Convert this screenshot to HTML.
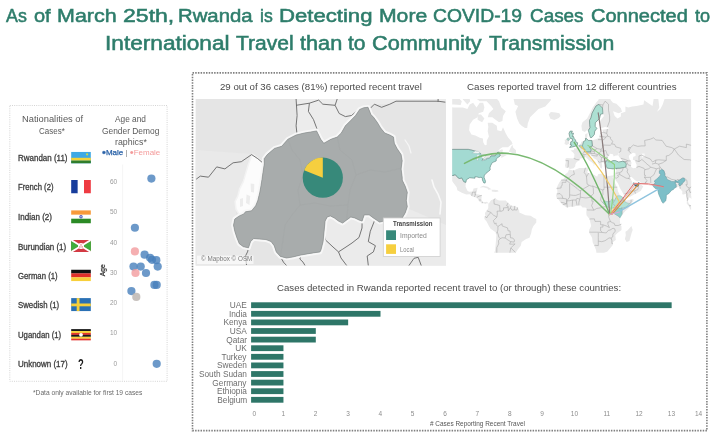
<!DOCTYPE html>
<html><head><meta charset="utf-8"><title>Rwanda COVID-19 dashboard</title>
<style>
html,body{margin:0;padding:0;background:#fff;}
body{width:717px;height:438px;position:relative;overflow:hidden;font-family:"Liberation Sans", sans-serif;}
#pg{position:absolute;left:0;top:0;width:717px;height:438px;filter:blur(0.4px);}
.abs{position:absolute;display:block;}
.t{position:absolute;white-space:pre;line-height:1;transform-origin:0 50%;font-family:"Liberation Sans", sans-serif;}
.box{position:absolute;box-sizing:border-box;}
</style></head><body><div id="pg">
<svg class="abs" style="left:0;top:0" width="717" height="438" viewBox="0 0 717 438">
<rect x="9.8" y="105.5" width="157.3" height="275.8" fill="none" stroke="#d4d4d4" stroke-width="1" stroke-dasharray="1 1.2"/>
<rect x="192.5" y="72.9" width="514.4" height="357.7" fill="none" stroke="#808080" stroke-width="1.6" stroke-dasharray="1.5 1.2"/>
<svg x="195.4" y="99" width="250.6" height="166.7" viewBox="195.4 99 250.6 166.7">
<rect x="195.4" y="99" width="250.6" height="166.7" fill="#e5e5e5"/>
<path d="M296.1,99.0 L297.1,135.0 L304.3,133.0 L316.6,130.9 L320.7,139.2 L323.8,143.3 L337.2,137.1 L345.4,125.8 L359.7,109.4 L368.0,107.3 L374.4,104.2 L389.8,104.2 L396.0,101.2 L446.0,101.2 L446.0,99.0Z" fill="#ececec"/>
<path d="M325.1,221.1 L324.1,231.3 L323.1,241.6 L320.0,251.9 L300.9,255.0 L286.5,258.0 L283.0,265.7 L446.0,265.7 L446.0,225.0 L407.0,208.0 L402.2,218.0 L383.7,221.1 L373.4,218.0 L364.2,214.9 L359.0,220.0 L350.8,217.0 L342.6,223.1 L330.3,215.9Z" fill="#ebebeb"/>
<path d="M195.4,150.0 L252.0,154.0 L236.0,200.0 L236.0,215.0 L233.0,228.0 L240.0,246.0 L247.0,250.0 L245.0,265.7 L195.4,265.7Z" fill="#e9e9e9"/>
<path d="M252.4,154.1 L264.3,163.3 L263.4,172.4 L261.6,185.2 L259.8,196.2 L257.9,203.5 L252.4,209.0 L245.1,211.8 L242.4,214.5 L238.7,213.6 L236.0,209.0 L235.1,201.7 L237.8,196.2 L239.6,188.9 L243.3,181.6 L246.0,172.4 L248.8,163.3Z" fill="#fcfcfc" stroke="#f3f3f3" stroke-width="1.5" stroke-linejoin="round"/>
<path d="M250.6,183.4 L254.3,184.0 L254.0,192.6 L251.0,192.0Z" fill="#ececec"/><path d="M246.5,194.4 L250.2,196.0 L249.5,205.0 L246.0,203.0Z" fill="#ececec"/><path d="M240.0,199.0 L243.0,198.0 L243.0,206.0 L240.0,207.0Z" fill="#ececec"/>
<path d="M432,180 L434,187 L438,194 L441,202 L440,214" fill="none" stroke="#f9f9f9" stroke-width="1.6" stroke-linecap="round"/>
<path d="M405,140 L409,146 L411,153" fill="none" stroke="#f6f6f6" stroke-width="1.2" stroke-linecap="round"/>
<g fill="none" stroke="#666" stroke-width="0.9" stroke-linejoin="round">
<path d="M196.2,179.2 L200.3,176.1 L208.5,177.2 L216.7,166.9 L224.9,168.9 L233.1,162.8 L241.3,161.7 L251.6,154.6 L257.8,158.7 L263.9,163.8"/><path d="M296.1,99.0 L297.1,115.5 L296.1,125.8 L297.1,135.0"/><path d="M296.1,105.3 L309.4,103.2 L318.7,100.1 L322.8,104.2 L335.1,105.3 L337.2,99.0"/><path d="M309.4,103.2 L308.4,111.4 L313.5,119.6 L316.6,127.9 L320.7,139.2"/><path d="M335.1,105.3 L339.2,113.5 L345.4,116.6 L351.5,115.5 L357.7,110.4 L361.8,107.3"/><path d="M370.3,108.3 L374.4,104.2 L381.6,107.3 L389.8,104.2 L396.0,101.2 L438.1,101.2 L445.3,102.2"/><path d="M438.1,99.0 L438.1,102.0"/><path d="M250.6,241.6 L247.5,251.9 L245.5,256.0 L246.5,265.0"/><path d="M280.4,256.4 L283.4,262.1 L286.5,265.5"/><path d="M300.9,255.0 L299.9,259.1 L303.0,262.1 L305.0,265.5"/><path d="M325.1,221.1 L324.1,231.3 L325.5,240.0 L333.0,247.0 L338.5,251.9 L341.0,258.0 L346.7,265.5"/><path d="M338.5,251.9 L346.0,247.0 L352.0,243.0 L359.0,237.5 L362.0,228.0 L362.1,221.1"/><path d="M373.4,218.0 L374.4,221.0 L370.3,231.3 L368.3,241.6 L375.4,245.7 L373.4,251.9 L367.2,256.0 L368.3,265.5"/><path d="M408.8,265.7 L414.0,258.3 L418.2,257.3 L421.3,265.7"/>
</g>
<path d="M264.2,158.7 L267.3,154.6 L274.5,148.4 L281.7,146.3 L287.9,139.2 L296.1,135.0 L304.3,133.0 L310.5,132.0 L316.6,130.9 L320.7,139.2 L323.8,143.3 L331.0,139.2 L337.2,137.1 L341.3,133.0 L345.4,125.8 L350.5,120.7 L355.6,115.5 L359.7,109.4 L363.9,107.7 L368.0,107.3 L370.9,114.5 L373.8,117.6 L377.5,122.7 L380.6,127.9 L384.7,133.0 L389.8,135.0 L393.5,137.1 L394.3,143.3 L397.0,148.4 L401.1,154.6 L402.2,160.7 L401.1,168.9 L402.2,177.2 L402.2,180.0 L405.2,186.2 L407.3,192.3 L406.3,200.5 L407.3,206.7 L405.2,212.9 L402.2,218.0 L383.7,221.1 L379.6,222.1 L373.4,218.0 L369.3,214.9 L364.2,214.9 L362.1,221.1 L359.0,220.0 L354.9,218.0 L350.8,217.0 L346.7,220.0 L342.6,223.1 L338.5,221.1 L334.4,218.0 L330.3,215.9 L327.2,217.0 L325.1,221.1 L324.1,231.3 L323.1,241.6 L321.0,249.8 L320.0,251.9 L313.2,252.9 L307.1,253.9 L300.9,255.0 L292.7,257.0 L286.5,258.0 L280.4,256.4 L276.3,251.9 L274.2,245.7 L271.1,241.6 L266.0,239.6 L259.8,239.1 L253.7,238.5 L250.6,241.6 L248.5,247.8 L243.4,246.7 L239.3,243.7 L236.8,237.5 L234.8,231.3 L233.5,225.2 L234.8,219.0 L239.3,215.9 L243.8,213.9 L245.5,211.8 L251.6,210.8 L255.7,205.7 L257.8,200.5 L259.8,192.3 L260.9,186.2 L261.9,180.0 L262.9,173.0 L264.3,163.8Z" fill="#a8acac" stroke="#f7f7f7" stroke-width="4.6" stroke-linejoin="round" paint-order="stroke"/>
<path d="M264.2,158.7 L267.3,154.6 L274.5,148.4 L281.7,146.3 L287.9,139.2 L296.1,135.0 L304.3,133.0 L310.5,132.0 L316.6,130.9 L320.7,139.2 L323.8,143.3 L331.0,139.2 L337.2,137.1 L341.3,133.0 L345.4,125.8 L350.5,120.7 L355.6,115.5 L359.7,109.4 L363.9,107.7 L368.0,107.3 L370.9,114.5 L373.8,117.6 L377.5,122.7 L380.6,127.9 L384.7,133.0 L389.8,135.0 L393.5,137.1 L394.3,143.3 L397.0,148.4 L401.1,154.6 L402.2,160.7 L401.1,168.9 L402.2,177.2 L402.2,180.0 L405.2,186.2 L407.3,192.3 L406.3,200.5 L407.3,206.7 L405.2,212.9 L402.2,218.0 L383.7,221.1 L379.6,222.1 L373.4,218.0 L369.3,214.9 L364.2,214.9 L362.1,221.1 L359.0,220.0 L354.9,218.0 L350.8,217.0 L346.7,220.0 L342.6,223.1 L338.5,221.1 L334.4,218.0 L330.3,215.9 L327.2,217.0 L325.1,221.1 L324.1,231.3 L323.1,241.6 L321.0,249.8 L320.0,251.9 L313.2,252.9 L307.1,253.9 L300.9,255.0 L292.7,257.0 L286.5,258.0 L280.4,256.4 L276.3,251.9 L274.2,245.7 L271.1,241.6 L266.0,239.6 L259.8,239.1 L253.7,238.5 L250.6,241.6 L248.5,247.8 L243.4,246.7 L239.3,243.7 L236.8,237.5 L234.8,231.3 L233.5,225.2 L234.8,219.0 L239.3,215.9 L243.8,213.9 L245.5,211.8 L251.6,210.8 L255.7,205.7 L257.8,200.5 L259.8,192.3 L260.9,186.2 L261.9,180.0 L262.9,173.0 L264.3,163.8Z" fill="#a8acac" stroke="#858989" stroke-width="0.6" stroke-linejoin="round"/>
<g fill="none" stroke="#a0a4a4" stroke-width="0.5" opacity="0.7">
<path d="M287.9,139.2 L292,150 L300,160 L303,175 L298,190 L300,205 L292,215 L285,225 L283,240 L280.4,256.4"/>
<path d="M337.2,137.1 L340,150 L352,160 L356,175 L350,190 L348,205 L346.7,220"/>
<path d="M300,205 L315,203 L330,206 L348,205"/>
<path d="M356,175 L370,170 L385,172 L402,168"/>
</g>
</svg>
<g>
<circle cx="322.8" cy="177.7" r="20.1" fill="#37897a"/>
<path d="M322.8,177.7 L304.11,170.30 A20.1,20.1 0 0 1 322.8,157.6 Z" fill="#f6cf3f"/>
</g>
<rect x="383.3" y="218" width="56.8" height="38.4" fill="#fff" stroke="#cfcfcf" stroke-width="0.8"/>
<rect x="386.1" y="230.3" width="9.9" height="9.7" fill="#37897a"/>
<rect x="386.1" y="244.3" width="9.9" height="9.6" fill="#f6cf3f"/>
<rect x="197" y="255.6" width="56.5" height="8.4" fill="#fff" fill-opacity="0.62"/>
<svg x="452.2" y="99" width="238.9" height="153.7" viewBox="452.2 99 238.9 153.7">
<g>
<path d="M442.6,105.9 L453.9,107.4 L462.9,107.4 L467.4,108.9 L469.7,104.4 L473.1,102.8 L476.5,107.4 L479.8,102.8 L483.2,102.8 L484.4,107.4 L483.2,111.8 L478.7,113.2 L477.6,117.2 L473.1,119.7 L469.7,124.6 L469.1,130.2 L471.4,134.4 L475.3,135.4 L479.8,137.8 L482.9,138.4 L483.2,142.2 L484.9,145.3 L486.6,145.0 L486.8,140.4 L488.9,136.5 L487.7,131.3 L488.3,126.9 L487.7,122.7 L492.3,122.7 L496.8,125.7 L497.3,130.2 L501.3,131.3 L503.0,127.3 L505.8,133.4 L508.1,137.4 L511.4,141.3 L512.6,144.1 L510.3,145.3 L508.1,147.3 L502.4,147.3 L500.2,148.8 L496.8,152.2 L501.3,149.4 L503.0,149.7 L502.4,151.9 L503.5,154.3 L506.9,155.1 L503.5,156.7 L501.3,158.0 L501.3,155.9 L500.2,155.9 L497.9,157.5 L496.2,159.0 L496.2,161.0 L492.3,162.6 L490.6,165.7 L490.0,167.8 L490.2,169.9 L488.3,171.5 L486.0,173.3 L484.4,175.3 L484.0,177.2 L485.5,181.3 L485.1,183.1 L483.8,182.9 L482.4,180.0 L482.3,177.9 L481.0,177.2 L479.3,177.6 L476.5,176.8 L474.8,176.9 L475.0,178.2 L473.1,178.1 L469.7,177.7 L466.3,179.8 L466.0,182.3 L465.5,186.6 L467.4,190.8 L469.1,191.7 L472.5,191.4 L473.6,188.4 L477.6,187.8 L477.0,190.8 L476.1,194.3 L478.7,194.5 L481.8,195.4 L481.3,200.0 L482.7,202.3 L485.5,202.1 L486.6,201.7 L488.5,202.9 L488.3,204.2 L487.2,203.1 L485.5,204.0 L484.4,203.4 L482.1,203.1 L479.0,201.2 L477.0,197.7 L472.5,196.6 L469.7,194.3 L466.3,194.5 L461.8,192.8 L457.3,190.2 L456.7,187.2 L453.9,183.5 L451.6,180.4 L448.2,175.9 L442.6,175.3Z" fill="#e9e9e9"/><path d="M485.5,88.6 L490.0,91.3 L494.5,96.1 L499.0,101.2 L501.3,107.4 L505.8,111.2 L503.0,115.9 L502.4,121.0 L499.0,122.2 L495.6,119.7 L492.3,117.2 L487.7,117.2 L488.9,113.2 L493.4,108.9 L491.1,105.9 L486.6,101.2 L479.8,101.2 L475.3,97.8 L475.3,88.6Z" fill="#e9e9e9"/><path d="M442.6,90.6 L442.6,103.4 L448.2,105.0 L453.9,104.4 L460.7,105.0 L461.8,101.2 L458.4,97.8 L457.3,90.6Z" fill="#e9e9e9"/><path d="M462.9,99.5 L467.4,104.4 L470.2,101.2 L468.6,94.3 L462.9,94.3Z" fill="#e9e9e9"/><path d="M477.6,114.5 L481.0,114.5 L484.4,118.5 L482.1,122.2 L477.6,119.7Z" fill="#e9e9e9"/><path d="M508.8,151.5 L511.4,146.2 L512.6,145.0 L513.1,147.6 L516.0,150.2 L516.0,153.2 L512.6,153.0Z" fill="#e9e9e9"/><path d="M512.6,94.3 L514.8,104.4 L518.2,105.9 L515.4,111.8 L517.1,118.5 L519.3,123.4 L521.6,125.7 L525.0,128.0 L527.2,128.0 L527.8,123.4 L530.1,117.2 L532.9,114.5 L538.5,108.9 L545.3,106.5 L550.9,100.2 L550.9,94.3Z" fill="#e9e9e9"/><path d="M548.7,114.5 L550.9,112.0 L555.5,112.6 L559.4,113.2 L560.5,115.9 L558.8,117.9 L554.3,120.0 L550.4,118.7Z" fill="#e9e9e9"/><path d="M479.8,187.2 L483.2,185.8 L487.7,186.8 L491.1,188.9 L492.0,189.3 L488.3,189.7 L487.7,188.4 L483.2,187.2 L481.0,187.4Z" fill="#e9e9e9"/><path d="M491.7,189.8 L494.5,189.7 L497.9,190.3 L498.6,191.4 L495.6,191.9 L491.8,191.5Z" fill="#e9e9e9"/><path d="M488.3,204.2 L490.0,201.7 L491.1,200.3 L493.9,199.1 L495.1,198.4 L496.8,199.5 L499.0,200.4 L503.5,200.6 L505.8,200.5 L508.1,202.9 L511.4,205.7 L514.8,205.9 L517.6,207.4 L519.3,210.7 L519.3,212.4 L521.6,213.5 L525.5,215.2 L530.6,215.8 L534.0,218.0 L536.3,219.1 L536.3,222.5 L533.4,225.9 L531.8,229.4 L531.2,232.9 L529.5,237.7 L526.1,239.1 L521.6,241.9 L520.8,245.7 L518.2,248.9 L515.4,252.9 L512.0,254.3 L510.9,258.4 L505.8,259.9 L502.4,264.3 L502.4,268.9 L499.0,273.8 L497.9,280.8 L495.6,284.5 L492.3,280.8 L490.6,273.8 L492.8,264.3 L492.8,257.0 L495.1,250.2 L495.6,245.1 L496.4,235.3 L495.6,232.3 L490.6,228.8 L488.9,225.9 L486.6,221.4 L484.4,219.1 L484.4,217.1 L485.5,215.8 L484.9,213.5 L485.5,211.9 L486.8,210.7 L488.3,207.9Z" fill="#e9e9e9"/><path d="M569.0,169.5 L573.5,170.4 L579.2,168.1 L584.8,167.9 L587.6,167.5 L588.2,170.6 L587.1,171.9 L588.2,173.0 L592.7,174.1 L597.2,176.8 L598.3,173.9 L601.7,173.8 L604.0,175.0 L608.5,176.0 L611.9,175.5 L614.4,175.5 L612.6,177.3 L614.1,181.0 L615.8,184.7 L617.5,188.4 L617.9,191.1 L619.8,194.9 L622.0,196.6 L624.6,198.3 L624.3,199.5 L626.6,200.6 L629.9,199.8 L633.3,198.9 L633.6,200.6 L631.1,204.6 L628.8,207.9 L625.4,211.1 L622.6,214.3 L620.3,217.5 L619.8,220.3 L620.3,223.7 L621.5,226.5 L621.5,230.0 L617.5,232.9 L615.3,235.3 L615.8,240.1 L613.0,241.9 L612.8,245.1 L610.8,247.6 L607.4,251.6 L604.0,252.9 L598.3,254.0 L596.4,252.9 L596.1,250.2 L594.4,245.7 L592.7,242.6 L592.1,237.7 L589.3,232.9 L589.1,230.0 L591.2,225.9 L590.4,222.5 L589.5,219.1 L586.5,215.2 L586.3,211.9 L586.7,208.5 L585.4,207.4 L582.5,207.6 L580.8,205.4 L577.5,205.5 L573.5,206.8 L571.3,206.6 L567.3,207.5 L565.6,206.8 L562.8,204.7 L560.9,202.9 L558.8,200.0 L556.9,198.3 L556.0,195.8 L557.1,193.7 L557.4,190.8 L556.6,188.4 L557.7,185.4 L559.4,182.3 L561.1,180.1 L563.4,178.9 L564.7,177.2 L565.0,174.6 L567.9,172.3Z" fill="#e9e9e9"/><path d="M631.4,225.9 L632.7,230.0 L631.6,232.9 L629.4,241.1 L626.6,241.9 L624.9,238.9 L625.8,235.3 L625.4,231.7 L627.7,230.3 L629.9,227.7Z" fill="#e9e9e9"/><path d="M565.6,167.8 L565.0,165.4 L565.8,162.0 L565.3,159.0 L566.7,158.0 L573.5,158.4 L574.3,156.7 L574.4,154.3 L572.9,152.2 L570.5,150.5 L573.9,149.9 L574.1,148.2 L576.0,148.5 L577.6,146.2 L579.7,145.2 L580.8,143.2 L581.4,141.7 L583.7,141.1 L585.6,140.4 L585.1,137.4 L585.0,134.4 L587.6,133.0 L587.4,136.5 L586.8,138.4 L588.2,140.4 L591.6,140.4 L596.6,139.0 L599.5,137.8 L599.5,134.4 L601.7,134.4 L603.2,132.8 L602.3,129.8 L607.4,128.9 L609.6,128.0 L605.1,127.1 L601.2,128.0 L599.8,125.7 L600.0,121.0 L604.0,115.9 L602.9,113.7 L600.6,114.5 L599.5,118.5 L595.5,123.4 L595.0,126.4 L596.9,128.0 L594.4,134.4 L591.8,137.4 L590.2,137.4 L588.4,131.3 L587.6,129.5 L584.8,132.1 L582.0,130.6 L581.4,125.7 L582.5,122.2 L587.1,118.5 L589.9,113.2 L592.7,107.4 L596.6,102.1 L598.3,100.2 L600.6,94.3 L608.5,94.3 L610.8,100.2 L613.0,102.8 L616.4,103.7 L620.9,108.3 L622.0,111.8 L618.7,113.2 L613.0,111.2 L614.7,115.9 L617.5,118.5 L620.9,116.6 L620.9,113.2 L625.4,111.8 L625.4,106.5 L628.2,107.4 L632.2,106.5 L636.7,105.9 L640.1,105.3 L643.5,104.4 L644.1,100.2 L650.3,104.4 L652.5,105.9 L653.6,99.5 L651.4,94.3 L659.3,92.5 L658.2,97.8 L659.3,107.4 L657.0,111.8 L660.4,108.9 L662.7,104.4 L666.1,94.3 L702.2,94.3 L702.2,198.9 L691.5,198.9 L689.6,197.3 L688.6,198.9 L687.8,201.2 L689.0,204.0 L690.9,205.5 L692.5,207.9 L692.9,210.7 L690.1,209.3 L689.0,206.3 L686.7,203.4 L686.9,200.6 L686.4,196.6 L685.9,193.7 L683.6,194.5 L682.2,194.3 L682.4,191.4 L679.8,188.4 L679.0,186.6 L677.3,187.2 L675.7,187.5 L674.0,188.4 L673.4,189.6 L671.7,190.2 L668.7,193.7 L666.3,194.9 L666.3,197.7 L665.8,200.8 L664.0,202.3 L663.2,203.3 L661.9,201.7 L660.2,197.7 L658.7,194.3 L657.9,190.8 L657.8,188.4 L655.3,188.6 L653.6,186.8 L652.7,185.1 L651.4,183.8 L650.8,183.0 L645.7,183.3 L640.7,182.7 L639.5,181.0 L637.3,181.5 L635.0,180.3 L632.8,177.9 L631.1,176.7 L629.9,177.2 L630.5,179.1 L632.2,181.4 L632.4,182.9 L633.1,184.0 L633.6,182.2 L634.0,182.9 L634.0,184.4 L636.7,184.5 L639.0,182.3 L639.4,184.1 L641.8,185.2 L643.3,186.6 L641.8,189.0 L640.9,190.8 L638.1,192.5 L634.5,194.3 L630.5,196.6 L626.6,198.0 L624.6,198.1 L624.1,195.4 L622.0,191.4 L619.8,187.8 L618.1,183.5 L615.3,179.8 L615.0,177.9 L614.4,175.5 L615.3,173.3 L616.4,169.9 L616.4,168.1 L613.0,168.9 L610.2,168.5 L607.4,168.2 L606.2,166.4 L605.7,164.2 L605.3,163.2 L602.9,162.3 L601.7,163.1 L602.3,166.4 L601.7,168.5 L600.3,167.8 L599.5,165.0 L597.8,162.8 L597.8,160.6 L593.8,158.3 L591.6,155.4 L591.0,154.8 L589.7,155.4 L589.9,157.5 L591.6,159.8 L593.8,160.9 L596.6,163.2 L595.0,162.9 L594.4,165.0 L593.5,166.4 L593.8,164.2 L592.1,162.5 L589.7,160.9 L587.6,159.0 L585.6,156.9 L583.7,158.0 L580.3,158.4 L579.4,159.9 L576.7,162.0 L575.4,164.2 L575.2,166.4 L573.5,168.2 L569.8,169.1 L568.4,167.8Z" fill="#e9e9e9"/><path d="M569.6,147.5 L571.8,147.1 L574.6,146.4 L577.2,145.5 L577.7,142.8 L576.1,142.2 L575.5,140.0 L574.1,138.4 L573.5,136.5 L572.4,136.5 L573.5,133.2 L571.3,133.2 L572.4,131.1 L570.1,131.1 L569.0,133.4 L569.6,136.5 L570.4,138.4 L572.4,138.8 L572.4,141.3 L570.7,141.9 L570.7,144.1 L569.9,144.4 L571.8,145.2 L570.7,145.9Z" fill="#e9e9e9"/><path d="M566.7,139.4 L567.9,137.8 L569.6,138.8 L569.0,140.4 L567.5,140.0Z" fill="#e9e9e9"/><path d="M564.5,144.1 L565.0,141.3 L564.5,139.8 L566.7,139.4 L567.5,140.0 L569.0,140.4 L569.0,143.7 L566.7,145.0Z" fill="#e9e9e9"/>
<path d="M607.4,160.9 L607.4,158.3 L608.5,155.9 L610.2,153.8 L613.0,154.3 L613.6,156.6 L615.8,155.6 L617.5,155.4 L618.7,152.7 L619.8,152.5 L618.1,155.0 L619.8,157.8 L622.6,161.0 L618.7,162.0 L615.3,160.6 L613.0,160.6 L610.8,161.7 L608.5,161.7Z" fill="#ffffff"/><path d="M628.8,155.9 L631.1,153.5 L633.3,152.7 L635.6,153.5 L635.6,155.9 L633.3,156.7 L632.8,159.8 L635.0,160.6 L635.6,162.8 L636.7,165.0 L636.2,167.8 L633.3,168.2 L631.1,167.1 L631.1,164.2 L631.6,162.8 L629.4,159.0Z" fill="#ffffff"/><path d="M641.8,153.5 L644.6,153.5 L644.6,156.7 L641.8,157.5Z" fill="#fafafa"/>
<path d="M471.9,153.2 L475.3,151.0 L478.7,151.4 L480.2,153.2 L477.6,153.5 L474.2,153.2Z" fill="#fafafa"/><path d="M476.5,155.1 L479.3,154.6 L478.4,158.3 L477.6,161.0 L476.7,159.8 L477.0,156.7Z" fill="#fafafa"/><path d="M480.4,154.3 L484.4,154.6 L485.5,156.6 L483.2,158.7 L481.5,157.5 L481.8,155.6Z" fill="#fafafa"/><path d="M481.8,160.9 L486.6,159.5 L486.4,159.0 L482.7,159.9Z" fill="#fafafa"/><path d="M485.8,158.6 L489.7,158.1 L489.4,157.3 L486.6,157.8Z" fill="#fafafa"/>
</g>
<g fill="none" stroke="#8e8e8e" stroke-width="0.5" stroke-linejoin="round" opacity="0.8">
<path d="M561.1,180.1 L566.0,180.1 L566.0,182.3 L562.2,182.3 L562.2,185.4 L561.1,186.0 L561.1,188.0 L556.6,188.4"/><path d="M566.0,180.1 L570.4,183.5 L577.1,188.4 L579.5,190.8 L580.5,190.5 L580.5,193.7 L575.8,195.4 L573.5,195.4 L569.6,194.9 L569.6,183.5"/><path d="M566.0,180.1 L571.8,175.3 L574.4,174.3 L573.5,170.4"/><path d="M585.4,167.8 L584.2,172.6 L585.9,174.6 L586.5,176.8 L587.1,184.1 L589.3,185.4 L591.6,186.2 L592.7,186.0 L602.9,190.2 L602.9,189.6 L604.0,189.6 L604.0,175.0"/><path d="M586.5,176.8 L588.7,173.0"/><path d="M589.3,185.4 L580.5,190.5"/><path d="M592.7,186.0 L593.3,188.4 L593.5,193.7 L591.0,196.0 L591.0,197.2 L592.1,198.0 L591.8,201.2 L593.3,201.2 L591.6,205.7 L593.8,210.2 L590.7,210.0 L588.5,210.0 L586.8,209.8"/><path d="M580.5,193.7 L580.3,197.2 L579.8,199.2 L578.9,202.3 L578.8,205.4"/><path d="M591.0,197.2 L585.9,198.0 L580.3,197.2"/><path d="M602.9,190.2 L602.9,194.6 L601.2,196.6 L600.6,200.0 L602.3,202.3 L602.9,202.6 L606.8,206.8 L604.0,206.8 L601.2,207.7 L596.6,208.5 L593.8,210.2"/><path d="M604.0,187.2 L611.1,187.2 L617.4,187.2"/><path d="M614.4,200.6 L617.0,196.0"/><path d="M610.2,201.5 L608.5,201.5"/><path d="M610.8,208.3 L610.5,209.8 L609.2,211.5 L609.2,214.0 L608.5,215.4 L608.8,217.3 L610.5,221.6 L607.9,222.0 L607.9,224.2 L609.4,227.6 L606.2,225.9 L602.9,224.8 L602.9,227.1 L600.6,227.1 L600.6,230.8 L602.3,232.4"/><path d="M614.1,213.5 L610.2,213.5 L609.2,214.0"/><path d="M614.1,207.7 L610.8,208.3"/><path d="M589.5,219.1 L591.0,218.9 L594.4,218.9 L595.0,221.4 L600.6,221.4 L600.6,224.8 L602.9,224.8"/><path d="M589.3,232.1 L591.6,232.2 L596.6,232.2 L602.3,232.4 L604.2,232.7"/><path d="M598.3,232.9 L598.3,237.7 L598.3,245.6 L595.0,245.3 L594.4,245.7"/><path d="M604.2,232.7 L606.2,232.9 L608.5,230.2 L610.0,230.1 L613.0,228.2 L614.7,228.8 L615.3,231.1 L612.9,234.1 L612.8,236.8 L611.1,238.1 L609.1,237.9 L605.1,240.7 L601.7,241.7 L598.3,241.1"/><path d="M611.1,238.1 L611.9,240.7 L611.9,243.6 L612.8,243.6"/><path d="M620.1,217.7 L618.2,216.0 L614.1,213.5"/><path d="M610.5,221.6 L612.9,223.0 L614.1,223.1 L614.9,225.4 L618.1,225.5 L621.4,224.2"/><path d="M622.0,214.3 L622.0,207.9 L623.2,207.9 L626.6,206.8 L629.9,203.4 L631.1,202.3 L631.1,199.7"/><path d="M624.3,199.5 L624.3,200.6"/><path d="M556.6,194.0 L560.0,193.6 L562.0,195.7 L562.9,198.4 L566.4,198.9 L566.7,200.9 L569.6,200.7 L572.6,200.0 L576.0,200.0 L576.9,198.3 L578.5,198.7 L579.8,199.2"/><path d="M569.6,194.9 L569.6,197.2 L566.7,200.9 L567.3,207.5"/><path d="M572.6,200.0 L572.2,206.8"/><path d="M577.1,205.5 L576.0,200.0"/><path d="M562.9,198.4 L560.5,198.2 L556.9,198.4"/><path d="M566.4,203.9 L562.8,204.7"/><path d="M560.9,202.3 L563.9,202.9 L566.4,203.9 L566.7,200.9"/><path d="M565.6,160.6 L568.4,160.6 L568.1,166.4 L567.4,167.5"/><path d="M573.7,158.4 L576.6,159.5 L579.4,159.9"/><path d="M578.7,145.7 L581.2,147.6 L582.2,148.5 L583.0,148.5 L585.0,149.4 L584.3,151.7 L582.5,154.0 L583.7,154.6 L584.2,157.8"/><path d="M584.3,151.7 L587.1,151.9 L590.4,151.9 L591.2,153.5 L587.6,153.0 L585.9,154.5 L583.7,154.6"/><path d="M590.4,151.9 L594.4,151.5 L594.8,149.9 L591.3,149.9"/><path d="M591.2,153.5 L594.4,153.5 L594.4,151.5"/><path d="M592.4,145.9 L597.0,148.5 L601.2,149.4 L602.9,146.8 L602.3,143.2 L602.5,140.4 L601.5,139.6 L598.0,139.6"/><path d="M591.8,140.5 L592.4,145.9"/><path d="M589.5,147.1 L592.4,145.9"/><path d="M594.8,149.9 L597.0,148.5"/><path d="M601.2,149.4 L600.8,151.0 L603.4,151.2 L605.8,150.5 L607.4,155.1 L609.2,155.4"/><path d="M594.4,153.5 L597.2,154.5 L598.7,154.0 L600.8,151.0"/><path d="M598.7,154.0 L600.0,156.2 L601.3,157.2 L601.5,158.7 L601.1,160.1 L601.6,161.6 L605.5,161.0 L607.4,160.6"/><path d="M601.3,157.2 L604.0,158.0 L606.2,157.3 L608.0,158.0"/><path d="M597.2,154.5 L597.2,156.1 L593.6,155.6 L591.1,155.1"/><path d="M597.7,160.6 L598.9,162.0 L599.5,162.3 L601.6,161.6"/><path d="M605.5,161.0 L605.2,162.5"/><path d="M602.9,146.8 L602.3,145.0 L610.2,145.3 L611.7,143.9 L614.6,144.4 L615.8,146.9 L620.9,148.3 L620.7,151.4 L618.9,152.5"/><path d="M602.5,140.4 L604.9,138.6 L605.8,137.1 L607.6,136.1 L607.0,133.6 L606.7,133.4 L607.4,129.1"/><path d="M599.5,136.3 L605.8,137.1"/><path d="M600.0,133.4 L603.4,132.3 L606.7,133.4"/><path d="M611.7,143.9 L612.7,141.3 L610.5,138.8 L610.6,137.3 L607.6,136.1"/><path d="M607.4,126.9 L609.6,121.0 L609.6,115.9 L608.5,110.3 L608.5,104.4 L608.4,104.1 L605.1,101.2 L602.9,105.0 L602.5,108.0"/><path d="M598.9,104.4 L602.9,105.0"/><path d="M588.4,130.4 L590.1,127.6 L589.7,124.6 L589.5,120.5 L591.0,117.7 L592.1,113.2 L594.4,108.9 L596.1,105.9 L598.9,104.4"/><path d="M585.6,138.6 L586.8,138.8"/><path d="M622.6,161.3 L624.9,161.7 L628.2,160.9 L630.6,160.9"/><path d="M620.9,158.3 L625.4,159.6 L628.2,160.9"/><path d="M624.9,161.7 L626.6,161.7 L628.2,165.0 L630.8,165.7"/><path d="M626.3,164.0 L625.4,164.4 L625.8,167.1 L627.7,169.5 L627.1,171.9 L629.6,175.9 L629.9,177.2"/><path d="M616.4,168.1 L619.8,168.2 L623.5,167.5"/><path d="M615.8,173.3 L619.6,172.7 L622.0,171.4 L623.5,167.5"/><path d="M619.6,172.7 L619.8,174.6 L617.5,175.3 L618.7,176.6 L616.4,178.2 L615.3,177.9"/><path d="M619.8,174.6 L626.2,178.2 L628.2,178.4 L629.6,177.2"/><path d="M628.2,178.4 L630.4,179.1"/><path d="M634.0,184.5 L635.1,186.1 L638.1,186.3 L638.5,187.2 L637.8,189.6 L634.5,190.8 L631.1,191.2 L628.8,193.1 L624.6,193.7"/><path d="M638.1,186.3 L638.7,184.5 L639.4,183.8"/><path d="M634.5,190.8 L635.6,193.6"/><path d="M636.6,167.4 L639.0,166.4 L644.1,168.4 L644.8,169.7 L644.4,171.9 L644.5,175.3 L645.5,175.4 L644.5,177.5 L647.1,180.8 L645.3,183.3"/><path d="M644.5,177.5 L650.6,177.3 L654.0,174.7 L654.8,172.6 L656.5,168.8 L659.9,167.8 L659.3,171.0"/><path d="M644.8,169.7 L648.6,168.8 L650.8,167.2 L656.5,168.8"/><path d="M635.6,160.6 L639.0,161.6 L641.9,159.5 L644.6,161.7 L646.3,163.5 L650.8,167.2"/><path d="M639.0,161.6 L639.0,155.9 L641.9,155.1 L644.6,156.7 L650.3,159.0 L652.5,162.0 L655.9,160.1 L658.7,159.8 L666.3,160.4 L666.3,155.9 L668.9,155.4 L672.3,152.7 L674.3,149.0"/><path d="M628.8,151.0 L630.5,147.6 L633.3,145.0 L637.8,146.4 L641.9,145.9 L645.2,145.9 L644.6,140.5 L650.3,139.2 L653.6,137.8 L655.9,140.0 L662.1,140.4 L666.1,146.2 L671.7,147.6 L674.3,149.0"/><path d="M628.8,151.0 L628.2,150.4 L628.8,147.6 L630.5,147.6"/><path d="M631.1,153.5 L628.8,151.0"/><path d="M652.0,164.1 L655.3,163.2 L658.7,164.2 L659.1,165.7 L660.3,167.5 L659.9,167.8"/><path d="M655.3,163.2 L655.9,160.1"/><path d="M658.7,164.2 L662.4,162.9 L666.3,160.4"/><path d="M674.3,149.0 L678.5,155.1 L684.1,159.5 L689.8,159.8 L694.3,161.2"/><path d="M674.3,149.0 L679.6,146.2 L686.4,147.6 L686.4,144.1 L691.1,145.3 L694.3,146.9"/><path d="M660.3,167.5 L663.8,170.6 L664.9,173.9 L664.7,175.5 L666.1,176.9 L667.2,176.9 L671.7,179.4 L675.1,180.0 L676.0,180.8 L677.1,179.5 L679.6,180.0 L682.4,178.2 L684.1,178.1 L685.8,179.4 L686.9,180.3 L687.2,184.7 L685.9,184.7 L687.5,187.2 L688.9,187.8 L690.0,188.1 L691.1,186.6 L694.3,185.7"/><path d="M685.2,180.4 L683.0,182.3 L681.9,185.0 L681.1,184.7 L679.9,186.0 L680.2,188.4 L679.8,188.4"/><path d="M675.3,181.9 L677.1,182.3 L679.6,183.5 L678.8,184.7 L679.9,186.0"/><path d="M676.2,187.2 L676.0,184.5 L675.3,183.5 L675.3,181.9"/><path d="M688.9,187.8 L689.2,189.2 L686.1,191.4 L686.9,193.7 L686.9,196.6 L687.7,199.5 L687.2,200.8"/><path d="M689.2,189.2 L690.0,192.5 L693.1,191.6 L694.8,196.0 L691.5,196.4 L691.5,198.9"/><path d="M688.9,205.1 L689.8,205.9 L690.9,205.5"/><path d="M650.8,183.0 L650.6,177.3"/><path d="M645.3,183.3 L645.5,181.7"/><path d="M442.6,149.4 L468.3,149.4 L471.9,150.2 L474.8,151.0 L480.4,153.5 L482.7,155.4 L482.8,159.0 L482.1,160.6 L486.6,159.3 L486.6,158.6 L489.4,158.1 L491.1,155.9 L495.1,155.9 L496.8,153.5 L497.9,152.0 L499.3,152.7 L500.2,155.9"/><path d="M466.0,182.3 L463.8,181.7 L461.8,177.9 L459.5,178.5 L457.8,177.6 L455.6,174.9 L453.7,174.9 L453.7,175.5 L450.5,175.5 L442.6,173.8"/><path d="M471.7,196.0 L472.5,192.2 L475.1,192.2 L475.1,194.4 L476.1,194.3"/><path d="M475.1,192.2 L476.1,191.5"/><path d="M474.2,196.8 L475.0,196.1 L475.1,194.4"/><path d="M476.8,197.5 L477.9,196.8 L479.8,195.9 L481.8,195.4"/><path d="M479.0,200.0 L480.2,200.0 L481.3,200.2"/><path d="M482.2,203.3 L482.5,201.7"/><path d="M495.1,198.4 L493.9,200.0 L494.2,204.1 L496.7,204.6 L499.6,205.5 L499.9,209.8 L500.2,211.1 L497.0,211.2 L497.4,213.5 L496.9,217.1 L493.5,215.2 L490.8,212.5 L486.8,210.7"/><path d="M508.1,202.9 L506.6,205.7 L508.1,206.6 L507.3,207.6 L503.5,207.9 L503.5,210.2 L500.9,211.5 L500.2,211.1"/><path d="M511.4,205.7 L510.3,207.9 L512.0,210.2 L514.3,209.8 L517.1,210.0 L517.6,207.4"/><path d="M510.3,207.9 L508.3,210.9 L508.1,206.6"/><path d="M514.3,209.8 L514.8,205.9"/><path d="M485.1,216.2 L486.6,218.0 L487.7,216.1 L490.8,212.5"/><path d="M496.9,217.1 L493.4,220.6 L494.5,223.7 L496.2,223.1 L496.2,224.8 L497.9,226.5 L497.9,230.0 L497.2,232.1 L496.4,233.3"/><path d="M497.9,226.5 L502.1,223.7 L502.1,225.9 L507.5,227.9 L508.1,230.9 L510.0,230.9 L510.3,235.0 L509.2,234.4 L506.0,234.8 L505.1,238.0 L502.4,237.7 L500.2,238.6 L498.8,237.1 L498.1,234.1 L497.2,232.1"/><path d="M510.3,235.0 L510.5,237.8 L512.8,238.0 L514.5,240.1 L514.1,242.1 L510.8,241.7 L509.6,244.1 L512.7,244.2 L515.1,243.9 L510.8,247.9 L510.1,251.6 L509.9,252.9"/><path d="M505.1,238.0 L508.1,240.1 L510.8,241.7"/><path d="M510.8,247.9 L515.5,252.5"/><path d="M500.2,238.6 L498.5,240.7 L498.7,243.8 L496.8,247.6 L496.8,252.9 L495.6,258.4 L494.7,264.3 L494.5,272.1 L492.8,277.2 L494.5,280.8"/>
</g>
<path d="M442.6,149.4 L468.3,149.4 L471.9,150.2 L474.8,151.0 L480.4,153.5 L481.5,154.6 L482.7,155.4 L482.8,159.0 L482.1,160.6 L486.6,159.3 L486.6,158.6 L489.4,158.1 L491.1,155.9 L495.1,155.9 L496.8,153.5 L497.9,152.0 L499.3,152.7 L500.2,155.9 L497.9,157.5 L496.2,159.0 L496.2,161.0 L492.3,162.6 L490.6,165.7 L490.0,167.8 L490.2,169.9 L488.3,171.5 L486.0,173.3 L484.4,175.3 L484.0,177.2 L485.5,181.3 L485.1,183.1 L483.8,182.9 L482.4,180.0 L482.3,177.9 L481.0,177.2 L479.3,177.6 L476.5,176.8 L474.8,176.9 L475.0,178.2 L473.1,178.1 L469.7,177.7 L466.3,179.8 L466.0,182.3 L463.8,181.7 L461.8,177.9 L459.5,178.5 L457.8,177.6 L455.6,174.9 L453.7,174.9 L453.7,175.5 L450.5,175.5 L442.6,173.8Z" fill="#a3dad2" stroke="#5f8883" stroke-width="0.6" stroke-linejoin="round"/>
<path d="M471.9,153.2 L475.3,151.0 L478.7,151.4 L480.2,153.2 L477.6,153.5 L474.2,153.2Z" fill="#f4f8f8" stroke="#8aa" stroke-width="0.3" stroke-linejoin="round"/><path d="M476.5,155.1 L479.3,154.6 L478.4,158.3 L477.6,161.0 L476.7,159.8 L477.0,156.7Z" fill="#f4f8f8" stroke="#8aa" stroke-width="0.3" stroke-linejoin="round"/><path d="M480.4,154.3 L484.4,154.6 L485.5,156.6 L483.2,158.7 L481.5,157.5 L481.8,155.6Z" fill="#f4f8f8" stroke="#8aa" stroke-width="0.3" stroke-linejoin="round"/><path d="M481.8,160.9 L486.6,159.5 L486.4,159.0 L482.7,159.9Z" fill="#f4f8f8" stroke="#8aa" stroke-width="0.3" stroke-linejoin="round"/><path d="M485.8,158.6 L489.7,158.1 L489.4,157.3 L486.6,157.8Z" fill="#f4f8f8" stroke="#8aa" stroke-width="0.3" stroke-linejoin="round"/>
<path d="M569.6,147.5 L571.8,147.1 L574.6,146.4 L577.2,145.5 L577.7,142.8 L576.1,142.2 L575.5,140.0 L574.1,138.4 L573.5,136.5 L572.4,136.5 L573.5,133.2 L571.3,133.2 L572.4,131.1 L570.1,131.1 L569.0,133.4 L569.6,136.5 L570.4,138.4 L572.4,138.8 L572.4,141.3 L570.7,141.9 L570.7,144.1 L569.9,144.4 L571.8,145.2 L570.7,145.9Z" fill="#ade0d3" stroke="#5f7f78" stroke-width="0.6" stroke-linejoin="round"/><path d="M566.7,139.4 L567.9,137.8 L569.6,138.8 L569.0,140.4 L567.5,140.0Z" fill="#ade0d3" stroke="#6f8f88" stroke-width="0.4" stroke-linejoin="round"/>
<path d="M588.4,130.4 L589.9,136.1 L590.4,137.6 L591.9,137.4 L594.4,134.4 L594.6,131.3 L596.9,128.4 L595.2,126.4 L595.3,122.7 L599.5,118.5 L600.6,114.2 L602.9,113.7 L602.5,108.0 L598.9,104.4 L596.1,105.9 L594.4,108.9 L592.1,113.2 L591.0,117.7 L589.5,120.5 L589.7,124.6 L590.1,127.6Z" fill="#ade0d3" stroke="#62827b" stroke-width="0.6" stroke-linejoin="round"/>
<path d="M582.5,145.9 L582.8,144.1 L583.7,141.3 L585.6,140.4 L585.4,138.4 L586.8,138.8 L588.2,140.4 L591.8,140.5 L592.4,145.9 L589.5,147.1 L591.3,149.9 L590.4,151.9 L587.1,151.9 L584.3,151.7 L585.0,149.4 L583.0,148.5Z" fill="#ade0d3" stroke="#62827b" stroke-width="0.6" stroke-linejoin="round"/>
<path d="M578.7,145.7 L579.6,145.2 L581.4,145.2 L582.5,146.2 L582.9,147.3 L582.2,148.5 L581.2,147.6Z" fill="#ade0d3" stroke="#7a9a93" stroke-width="0.4" stroke-linejoin="round"/>
<path d="M605.2,163.5 L605.7,161.3 L607.4,160.6 L608.5,161.7 L610.8,161.7 L613.0,160.6 L615.3,160.6 L618.7,162.0 L622.6,161.3 L624.9,162.0 L626.3,164.0 L625.8,167.1 L623.5,167.5 L619.8,168.2 L617.2,168.2 L616.4,169.2 L616.4,168.1 L613.0,168.9 L610.2,168.5 L607.4,168.2 L606.2,166.4 L605.7,164.2Z" fill="#ade0d3" stroke="#62827b" stroke-width="0.6" stroke-linejoin="round"/>
<path d="M602.9,202.6 L604.0,200.8 L606.8,201.6 L608.5,201.5 L610.2,201.5 L611.9,198.9 L613.2,198.9 L613.2,200.6 L614.4,200.6 L613.0,203.4 L615.3,206.3 L614.1,207.7 L610.8,208.3 L609.1,207.4 L606.8,206.8 L605.1,205.1Z" fill="#b3e2d6" stroke="#8aa" stroke-width="0.4" stroke-linejoin="round"/>
<path d="M613.0,203.4 L614.7,200.6 L617.0,196.0 L618.7,195.7 L620.9,196.0 L623.6,198.3 L622.9,200.0 L624.3,200.6 L625.4,202.3 L628.8,203.4 L629.9,203.4 L626.6,206.8 L623.2,207.9 L622.0,207.9 L620.3,208.6 L618.7,208.4 L616.4,207.5 L615.3,206.3Z" fill="#b3e2d6" stroke="#8aa" stroke-width="0.4" stroke-linejoin="round"/>
<path d="M614.1,207.7 L616.4,207.5 L618.7,208.4 L620.3,208.6 L622.0,207.9 L622.0,214.3 L620.1,217.7 L618.2,216.0 L614.1,213.5 L614.1,211.9 L615.3,210.7Z" fill="#8fcfcb" stroke="#7aa" stroke-width="0.4" stroke-linejoin="round"/>
<path d="M652.7,185.1 L653.6,186.8 L655.3,188.6 L657.8,188.4 L657.9,190.8 L658.7,194.3 L660.2,197.7 L661.9,201.7 L663.2,203.3 L664.0,202.3 L665.8,200.8 L666.3,197.7 L666.3,194.9 L668.7,193.7 L671.7,190.2 L673.4,189.6 L674.0,188.4 L675.7,187.5 L676.2,187.2 L676.0,184.5 L675.3,183.5 L675.3,181.9 L677.1,182.3 L679.6,183.5 L678.8,184.7 L679.9,186.0 L681.1,184.7 L682.6,182.9 L685.2,180.4 L684.1,178.1 L682.4,178.2 L679.6,180.0 L677.1,181.3 L676.0,180.8 L675.1,180.0 L675.1,181.7 L671.7,181.4 L667.2,179.4 L666.1,176.9 L664.7,175.5 L664.9,173.9 L663.8,170.6 L661.5,169.5 L659.3,171.0 L659.3,173.3 L660.8,174.2 L659.9,175.9 L658.2,177.5 L655.9,179.8 L654.2,181.0 L655.3,182.9Z" fill="#7dbfc8" stroke="#5f98a0" stroke-width="0.5" stroke-linejoin="round"/>
<path d="M633.1,184.0 L633.6,182.2 L634.0,182.9 L633.9,184.0Z" fill="#a3dad2" stroke="#5f98a0" stroke-width="0.3" stroke-linejoin="round"/>
<path d="M634.0,184.5 L636.7,184.5 L639.0,182.3 L639.4,183.8 L638.7,184.5 L638.1,186.3 L635.1,186.1Z" fill="#2f6f8f" stroke="#2a5f7a" stroke-width="0.4" stroke-linejoin="round"/>
<g fill="none" stroke-linecap="round" stroke-linejoin="round">
<path d="M464.5,163.4 Q525.0,128.0 609.7,214.5" stroke="#79b971" stroke-width="1.5"/><path d="M574.2,142.3 Q590.0,166.0 609.7,214.5" stroke="#70b56a" stroke-width="1.4"/><path d="M598.2,112.8 Q606.5,165.0 609.7,214.5" stroke="#8a7c7c" stroke-width="1.2"/><path d="M581,146.4 Q603,170 619.4,202 L609.7,214.5" stroke="#f1cc68" stroke-width="1.3"/><path d="M587.9,145.4 L614.5,164.5 Q614.5,190 610.5,214.5" stroke="#8fd07f" stroke-width="1.1"/><path d="M663.3,186.6 Q648,182.7 634.2,183.3 L610.7,214.5" stroke="#e06a6a" stroke-width="1.0"/><path d="M663.3,187.2 Q648,183.6 635.6,184 L611.3000000000001,214.5" stroke="#e89a9a" stroke-width="0.6"/><path d="M638.6,184.2 L611.9000000000001,214.5" stroke="#d98f3a" stroke-width="1.1"/><path d="M658.3,189.2 L619.5,211.3" stroke="#8fc4de" stroke-width="1.4"/><path d="M619.5,212 L609.7,214.5" stroke="#d7a8da" stroke-width="1.0"/>
</g>
</svg>
<svg x="71.1" y="151.8" width="19.8" height="11.7" viewBox="0 0 19.8 11.7"><rect width="19.8" height="11.7" fill="#3fa9e5"/><rect y="6" width="19.8" height="2.9" fill="#f3d33b"/><rect y="8.9" width="19.8" height="2.8" fill="#2f7d2b"/><circle cx="16" cy="2.6" r="1.1" fill="#c9d84a"/></svg><svg x="71.1" y="180" width="19.8" height="13.5" viewBox="0 0 19.8 13.5"><rect width="6.7" height="13.5" fill="#173d9c"/><rect x="6.7" width="6.2" height="13.5" fill="#ffffff"/><rect x="12.9" width="6.9" height="13.5" fill="#ee3b42"/></svg><svg x="71.1" y="210.2" width="19.8" height="13.3" viewBox="0 0 19.8 13.3"><rect width="19.8" height="4.6" fill="#f79a3a"/><rect y="4.6" width="19.8" height="3.9" fill="#ffffff"/><rect y="8.5" width="19.8" height="4.8" fill="#2b8a25"/><circle cx="9.9" cy="6.5" r="1.7" fill="#4a55b5"/><circle cx="9.9" cy="6.5" r="0.8" fill="#c8cdf0"/></svg><svg x="71.1" y="239.9" width="19.8" height="12.2" viewBox="0 0 19.8 12.2"><rect width="19.8" height="12.2" fill="#d33a43"/><path d="M0,0.8 L0,11.399999999999999 L8.2,6.1Z M19.8,0.8 L19.8,11.399999999999999 L11.600000000000001,6.1Z" fill="#3fae3d"/><path d="M0,0 L1.6,0 L19.8,11.2 L19.8,12.2 L18.2,12.2 L0,1Z M19.8,0 L18.2,0 L0,11.2 L0,12.2 L1.6,12.2 L19.8,1Z" fill="#ffffff"/><circle cx="9.9" cy="6.1" r="3" fill="#ffffff"/><circle cx="9.9" cy="5" r="0.6" fill="#d33a43"/><circle cx="8.8" cy="7" r="0.6" fill="#d33a43"/><circle cx="11" cy="7" r="0.6" fill="#d33a43"/></svg><svg x="71.1" y="269.5" width="19.8" height="11.8" viewBox="0 0 19.8 11.8"><rect width="19.8" height="4" fill="#111111"/><rect y="3.9" width="19.8" height="4" fill="#e0302a"/><rect y="7.8" width="19.8" height="4" fill="#f8cf3a"/></svg><svg x="71.1" y="298.1" width="19.8" height="13.2" viewBox="0 0 19.8 13.2"><rect width="19.8" height="13.2" fill="#2a70b4"/><rect x="5.6" width="2.8" height="13.2" fill="#f7cf3a"/><rect y="5.4" width="19.8" height="2.8" fill="#f7cf3a"/></svg><svg x="71.1" y="329.1" width="19.8" height="11.5" viewBox="0 0 19.8 11.5"><rect y="0.00" width="19.8" height="2.02" fill="#1a1a1a"/><rect y="1.92" width="19.8" height="2.02" fill="#f6d33a"/><rect y="3.83" width="19.8" height="2.02" fill="#e2352e"/><rect y="5.75" width="19.8" height="2.02" fill="#1a1a1a"/><rect y="7.67" width="19.8" height="2.02" fill="#f6d33a"/><rect y="9.58" width="19.8" height="2.02" fill="#e2352e"/><circle cx="9.9" cy="5.75" r="1.9" fill="#ffffff"/></svg>
<g><line x1="122.6" y1="164.5" x2="122.6" y2="381" stroke="#f3f3f3" stroke-width="0.8"/><circle cx="151.4" cy="178.6" r="4.1" fill="#4780bb" fill-opacity="0.8"/><circle cx="134.9" cy="227.75" r="4.1" fill="#4780bb" fill-opacity="0.8"/><circle cx="134.9" cy="251.4" r="4.1" fill="#f29b9e" fill-opacity="0.8"/><circle cx="144.6" cy="254.7" r="4.1" fill="#4780bb" fill-opacity="0.8"/><circle cx="150.1" cy="257.8" r="4.1" fill="#4780bb" fill-opacity="0.8"/><circle cx="152" cy="259.8" r="4.1" fill="#4780bb" fill-opacity="0.8"/><circle cx="156.3" cy="260.2" r="4.1" fill="#4780bb" fill-opacity="0.8"/><circle cx="133.5" cy="266.6" r="4.1" fill="#4780bb" fill-opacity="0.8"/><circle cx="140.7" cy="266.6" r="4.1" fill="#4780bb" fill-opacity="0.8"/><circle cx="157.7" cy="266.6" r="4.1" fill="#4780bb" fill-opacity="0.8"/><circle cx="135.5" cy="273" r="4.1" fill="#f29b9e" fill-opacity="0.8"/><circle cx="146" cy="273" r="4.1" fill="#4780bb" fill-opacity="0.8"/><circle cx="154.4" cy="284.9" r="4.1" fill="#4780bb" fill-opacity="0.8"/><circle cx="156.7" cy="284.9" r="4.1" fill="#4780bb" fill-opacity="0.8"/><circle cx="131.4" cy="291.1" r="4.1" fill="#4780bb" fill-opacity="0.8"/><circle cx="136.3" cy="296.9" r="4.1" fill="#b9b1ad" fill-opacity="0.8"/><circle cx="156.7" cy="363.8" r="4.1" fill="#4780bb" fill-opacity="0.8"/></g>
<g><rect x="251.1" y="302.30" width="420.55" height="5.8" fill="#2e7668"/><rect x="251.1" y="310.90" width="129.40" height="5.8" fill="#2e7668"/><rect x="251.1" y="319.50" width="97.05" height="5.8" fill="#2e7668"/><rect x="251.1" y="328.10" width="64.70" height="5.8" fill="#2e7668"/><rect x="251.1" y="336.70" width="64.70" height="5.8" fill="#2e7668"/><rect x="251.1" y="345.30" width="32.35" height="5.8" fill="#2e7668"/><rect x="251.1" y="353.90" width="32.35" height="5.8" fill="#2e7668"/><rect x="251.1" y="362.50" width="32.35" height="5.8" fill="#2e7668"/><rect x="251.1" y="371.10" width="32.35" height="5.8" fill="#2e7668"/><rect x="251.1" y="379.70" width="32.35" height="5.8" fill="#2e7668"/><rect x="251.1" y="388.30" width="32.35" height="5.8" fill="#2e7668"/><rect x="251.1" y="396.90" width="32.35" height="5.8" fill="#2e7668"/></g>
</svg>
<span class="t" style="left:92.5px;top:267.2px;width:20px;text-align:center;font-size:6.7px;color:#2a2a2a;-webkit-text-stroke:0.2px #2a2a2a;transform:rotate(-90deg);transform-origin:50% 50%;">Age</span>
<span class="t" style="top:6px;font-size:19.1px;color:#2e7d6b;-webkit-text-stroke:0.55px #2e7d6b;left:6.10px;transform:scaleX(0.9340);">As</span>
<span class="t" style="top:6px;font-size:19.1px;color:#2e7d6b;-webkit-text-stroke:0.55px #2e7d6b;left:33.80px;transform:scaleX(1.0470);">of</span>
<span class="t" style="top:6px;font-size:19.1px;color:#2e7d6b;-webkit-text-stroke:0.55px #2e7d6b;left:57.08px;transform:scaleX(1.1239);">March</span>
<span class="t" style="top:6px;font-size:19.1px;color:#2e7d6b;-webkit-text-stroke:0.55px #2e7d6b;left:123.00px;transform:scaleX(1.2074);">25th,</span>
<span class="t" style="top:6px;font-size:19.1px;color:#2e7d6b;-webkit-text-stroke:0.55px #2e7d6b;left:177.94px;transform:scaleX(1.0643);">Rwanda</span>
<span class="t" style="top:6px;font-size:19.1px;color:#2e7d6b;-webkit-text-stroke:0.55px #2e7d6b;left:260.18px;transform:scaleX(0.9231);">is</span>
<span class="t" style="top:6px;font-size:19.1px;color:#2e7d6b;-webkit-text-stroke:0.55px #2e7d6b;left:279.34px;transform:scaleX(1.1588);">Detecting</span>
<span class="t" style="top:6px;font-size:19.1px;color:#2e7d6b;-webkit-text-stroke:0.55px #2e7d6b;left:379.09px;transform:scaleX(1.1079);">More</span>
<span class="t" style="top:6px;font-size:19.1px;color:#2e7d6b;-webkit-text-stroke:0.55px #2e7d6b;left:433.40px;transform:scaleX(1.0109);">COVID-19</span>
<span class="t" style="top:6px;font-size:19.1px;color:#2e7d6b;-webkit-text-stroke:0.55px #2e7d6b;left:530.10px;transform:scaleX(0.9893);">Cases</span>
<span class="t" style="top:6px;font-size:19.1px;color:#2e7d6b;-webkit-text-stroke:0.55px #2e7d6b;left:590.80px;transform:scaleX(1.0487);">Connected</span>
<span class="t" style="top:6px;font-size:19.1px;color:#2e7d6b;-webkit-text-stroke:0.55px #2e7d6b;left:694.50px;transform:scaleX(0.9474);">to</span>
<span class="t" style="top:34px;font-size:19.7px;color:#2e7d6b;-webkit-text-stroke:0.55px #2e7d6b;left:104.85px;transform:scaleX(1.1497);">International</span>
<span class="t" style="top:34px;font-size:19.7px;color:#2e7d6b;-webkit-text-stroke:0.55px #2e7d6b;left:235.80px;transform:scaleX(1.0673);">Travel</span>
<span class="t" style="top:34px;font-size:19.7px;color:#2e7d6b;-webkit-text-stroke:0.55px #2e7d6b;left:300.00px;transform:scaleX(1.1025);">than</span>
<span class="t" style="top:34px;font-size:19.7px;color:#2e7d6b;-webkit-text-stroke:0.55px #2e7d6b;left:348.30px;transform:scaleX(1.0686);">to</span>
<span class="t" style="top:34px;font-size:19.7px;color:#2e7d6b;-webkit-text-stroke:0.55px #2e7d6b;left:372.30px;transform:scaleX(1.1012);">Community</span>
<span class="t" style="top:34px;font-size:19.7px;color:#2e7d6b;-webkit-text-stroke:0.55px #2e7d6b;left:489.10px;transform:scaleX(1.0773);">Transmission</span>
<span class="t" style="top:115px;font-size:8.8px;color:#5a5a5a;left:21.60px;transform:scaleX(1.0591);">Nationalities of</span>
<span class="t" style="top:127px;font-size:8.8px;color:#5a5a5a;left:39.20px;transform:scaleX(0.9089);">Cases*</span>
<span class="t" style="top:115px;font-size:8.8px;color:#5a5a5a;left:115.10px;transform:scaleX(0.9458);">Age and</span>
<span class="t" style="top:127px;font-size:8.8px;color:#5a5a5a;left:101.90px;transform:scaleX(0.9527);">Gender Demog</span>
<span class="t" style="top:138px;font-size:8.8px;color:#5a5a5a;left:114.80px;transform:scaleX(1.0013);">raphics*</span>
<span class="t" style="top:149px;font-size:7.4px;color:#888;left:102.30px;transform:scaleX(1.0801);"><span style="color:#2a62a8;-webkit-text-stroke:0.25px #2a62a8"><span style="font-size:1.4em;line-height:0;vertical-align:-0.08em">&bull;</span>Male</span><span style="color:#8a8a8a"> | </span><span style="color:#f49a9a"><span style="font-size:1.4em;line-height:0;vertical-align:-0.08em">&bull;</span>Female</span></span>
<span class="t" style="top:154px;font-size:8.4px;color:#3c3c3c;-webkit-text-stroke:0.3px #3c3c3c;left:17.70px;transform:scaleX(0.9522);">Rwandan (11)</span>
<span class="t" style="top:183px;font-size:8.4px;color:#3c3c3c;-webkit-text-stroke:0.3px #3c3c3c;left:17.70px;transform:scaleX(0.9192);">French (2)</span>
<span class="t" style="top:213px;font-size:8.4px;color:#3c3c3c;-webkit-text-stroke:0.3px #3c3c3c;left:17.70px;transform:scaleX(0.9609);">Indian (2)</span>
<span class="t" style="top:243px;font-size:8.4px;color:#3c3c3c;-webkit-text-stroke:0.3px #3c3c3c;left:17.70px;transform:scaleX(0.9498);">Burundian (1)</span>
<span class="t" style="top:272px;font-size:8.4px;color:#3c3c3c;-webkit-text-stroke:0.3px #3c3c3c;left:17.70px;transform:scaleX(0.9250);">German (1)</span>
<span class="t" style="top:301px;font-size:8.4px;color:#3c3c3c;-webkit-text-stroke:0.3px #3c3c3c;left:17.70px;transform:scaleX(0.9318);">Swedish (1)</span>
<span class="t" style="top:331px;font-size:8.4px;color:#3c3c3c;-webkit-text-stroke:0.3px #3c3c3c;left:17.70px;transform:scaleX(0.9280);">Ugandan (1)</span>
<span class="t" style="top:360px;font-size:8.4px;color:#3c3c3c;-webkit-text-stroke:0.3px #3c3c3c;left:17.70px;transform:scaleX(0.9514);">Unknown (17)</span>
<span class="t" style="top:357px;font-size:14.6px;color:#1a1a1a;font-weight:700;left:77.90px;transform:scaleX(0.6444);">?</span>
<span class="t" style="top:179px;font-size:6.5px;color:#9a9a9a;left:109.99px;">60</span>
<span class="t" style="top:209px;font-size:6.5px;color:#9a9a9a;left:109.99px;">50</span>
<span class="t" style="top:240px;font-size:6.5px;color:#9a9a9a;left:109.99px;">40</span>
<span class="t" style="top:270px;font-size:6.5px;color:#9a9a9a;left:109.99px;">30</span>
<span class="t" style="top:300px;font-size:6.5px;color:#9a9a9a;left:109.99px;">20</span>
<span class="t" style="top:330px;font-size:6.5px;color:#9a9a9a;left:109.99px;">10</span>
<span class="t" style="top:361px;font-size:6.5px;color:#9a9a9a;left:113.60px;">0</span>
<span class="t" style="top:390px;font-size:6.5px;color:#6a6a6a;left:33.40px;transform:scaleX(1.0214);">*Data only available for first 19 cases</span>
<span class="t" style="top:83px;font-size:9.3px;color:#4a4a4a;left:220.20px;transform:scaleX(1.0389);">29 out of 36 cases (81%) reported recent travel</span>
<span class="t" style="top:83px;font-size:9.3px;color:#4a4a4a;left:467.00px;transform:scaleX(1.0519);">Cases reported travel from 12 different countries</span>
<span class="t" style="top:284px;font-size:9.3px;color:#4a4a4a;left:277.00px;transform:scaleX(1.0372);">Cases detected in Rwanda reported recent travel to (or through) these countries:</span>
<span class="t" style="top:301px;font-size:8.3px;color:#6e6e6e;left:229.77px;">UAE</span>
<span class="t" style="top:310px;font-size:8.3px;color:#6e6e6e;left:228.92px;">India</span>
<span class="t" style="top:318px;font-size:8.3px;color:#6e6e6e;left:223.39px;">Kenya</span>
<span class="t" style="top:327px;font-size:8.3px;color:#6e6e6e;left:229.77px;">USA</span>
<span class="t" style="top:336px;font-size:8.3px;color:#6e6e6e;left:226.31px;">Qatar</span>
<span class="t" style="top:344px;font-size:8.3px;color:#6e6e6e;left:235.31px;">UK</span>
<span class="t" style="top:353px;font-size:8.3px;color:#6e6e6e;left:221.40px;">Turkey</span>
<span class="t" style="top:361px;font-size:8.3px;color:#6e6e6e;left:216.93px;">Sweden</span>
<span class="t" style="top:370px;font-size:8.3px;color:#6e6e6e;left:198.94px;">South Sudan</span>
<span class="t" style="top:379px;font-size:8.3px;color:#6e6e6e;left:212.33px;">Germany</span>
<span class="t" style="top:387px;font-size:8.3px;color:#6e6e6e;left:216.93px;">Ethiopia</span>
<span class="t" style="top:396px;font-size:8.3px;color:#6e6e6e;left:217.24px;">Belgium</span>
<span class="t" style="top:411px;font-size:6.5px;color:#8c8c8c;left:252.50px;">0</span>
<span class="t" style="top:411px;font-size:6.5px;color:#8c8c8c;left:281.45px;">1</span>
<span class="t" style="top:411px;font-size:6.5px;color:#8c8c8c;left:313.80px;">2</span>
<span class="t" style="top:411px;font-size:6.5px;color:#8c8c8c;left:346.15px;">3</span>
<span class="t" style="top:411px;font-size:6.5px;color:#8c8c8c;left:378.50px;">4</span>
<span class="t" style="top:411px;font-size:6.5px;color:#8c8c8c;left:410.85px;">5</span>
<span class="t" style="top:411px;font-size:6.5px;color:#8c8c8c;left:443.20px;">6</span>
<span class="t" style="top:411px;font-size:6.5px;color:#8c8c8c;left:475.55px;">7</span>
<span class="t" style="top:411px;font-size:6.5px;color:#8c8c8c;left:507.90px;">8</span>
<span class="t" style="top:411px;font-size:6.5px;color:#8c8c8c;left:540.25px;">9</span>
<span class="t" style="top:411px;font-size:6.5px;color:#8c8c8c;left:570.79px;">10</span>
<span class="t" style="top:411px;font-size:6.5px;color:#8c8c8c;left:603.38px;">11</span>
<span class="t" style="top:411px;font-size:6.5px;color:#8c8c8c;left:635.49px;">12</span>
<span class="t" style="top:411px;font-size:6.5px;color:#8c8c8c;left:667.84px;">13</span>
<span class="t" style="top:411px;font-size:6.5px;color:#8c8c8c;left:694.99px;">14</span>
<span class="t" style="top:421px;font-size:6.5px;color:#555;left:429.70px;transform:scaleX(0.9915);"># Cases Reporting Recent Travel</span>
<span class="t" style="top:256px;font-size:6.3px;color:#7a7a7a;left:200.90px;transform:scaleX(1.0014);">&copy; Mapbox &copy; OSM</span>
<span class="t" style="top:221px;font-size:6.6px;color:#444;font-weight:700;left:392.90px;transform:scaleX(0.9275);">Transmission</span>
<span class="t" style="top:233px;font-size:6.5px;color:#8a8a8a;left:399.70px;transform:scaleX(1.0409);">Imported</span>
<span class="t" style="top:247px;font-size:6.5px;color:#8a8a8a;left:399.70px;transform:scaleX(0.8947);">Local</span>
</div></body></html>
